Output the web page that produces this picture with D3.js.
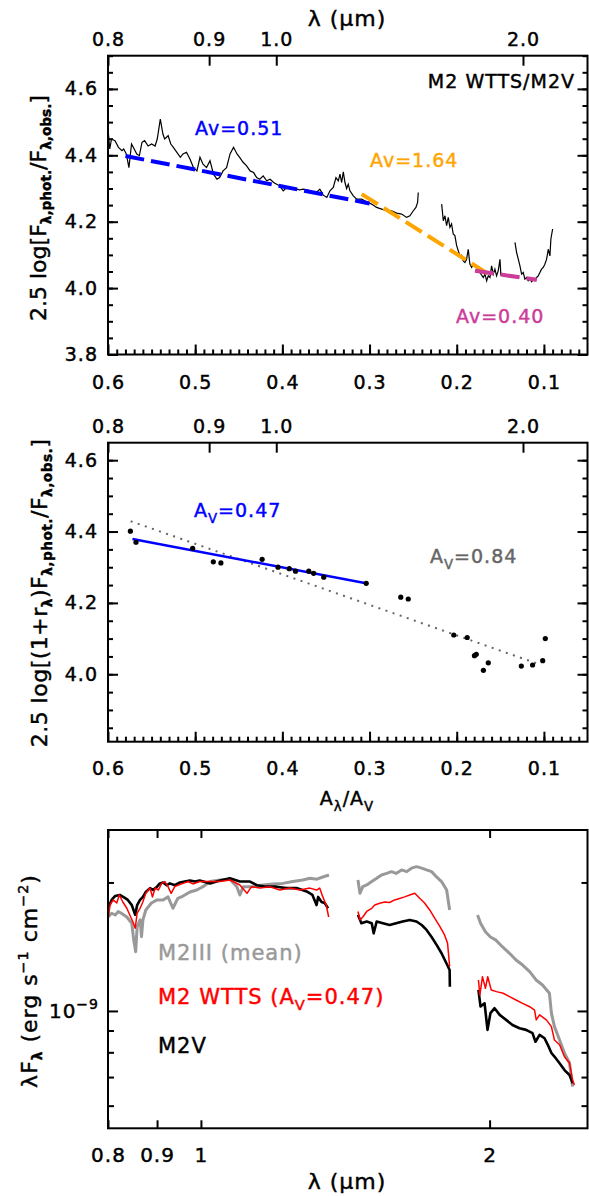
<!DOCTYPE html>
<html>
<head>
<meta charset="utf-8">
<script src="https://cdn.jsdelivr.net/npm/d3@7"></script>
<style>
  body { margin: 0; background: #fff; }
  svg { font-family: "DejaVu Sans", sans-serif; }
  svg text { stroke: currentColor; stroke-width: 0.45px; }
</style>
</head>
<body>
<svg id="chart" width="589" height="1196"></svg>
<script>
// ---------- data ----------
// top axis of panels 1 and 2: wavelength ticks placed at their A_lambda/A_V value
const lambdaTickLabels = ["0.8", "0.9", "1.0", "2.0"];
const lambdaTickA = [0.600, 0.484, 0.407, 0.124];
const aTicks = [0.6, 0.5, 0.4, 0.3, 0.2, 0.1];

// panel 1: 2.5 log(F_phot/F_obs) against A_lambda/A_V, three spectral pieces
const ratioSeg1 = [[0.600,4.48],[0.598,4.419],[0.596,4.449],[0.592,4.444],[0.588,4.424],[0.584,4.414],[0.582,4.419],[0.579,4.404],[0.576,4.363],[0.573,4.434],[0.571,4.424],[0.567,4.404],[0.564,4.399],[0.561,4.439],[0.558,4.444],[0.554,4.428],[0.550,4.434],[0.546,4.428],[0.5435,4.449],[0.540,4.509],[0.537,4.464],[0.535,4.449],[0.531,4.459],[0.528,4.434],[0.525,4.424],[0.521,4.409],[0.517,4.394],[0.514,4.404],[0.510,4.409],[0.506,4.389],[0.502,4.363],[0.498,4.353],[0.4945,4.394],[0.491,4.373],[0.487,4.363],[0.483,4.384],[0.479,4.343],[0.475,4.328],[0.472,4.333],[0.468,4.353],[0.464,4.363],[0.460,4.404],[0.456,4.424],[0.452,4.404],[0.449,4.394],[0.445,4.379],[0.441,4.368],[0.437,4.353],[0.433,4.348],[0.4295,4.333],[0.426,4.328],[0.422,4.338],[0.418,4.323],[0.414,4.328],[0.410,4.318],[0.4065,4.313],[0.403,4.308],[0.399,4.293],[0.395,4.303],[0.391,4.300],[0.3875,4.298],[0.384,4.298],[0.380,4.296],[0.376,4.298],[0.372,4.296],[0.368,4.293],[0.3645,4.288],[0.361,4.288],[0.357,4.298],[0.353,4.280],[0.349,4.273],[0.3454,4.293],[0.3416,4.303],[0.3385,4.333],[0.3358,4.323],[0.3339,4.343],[0.3320,4.318],[0.3301,4.350],[0.3282,4.318],[0.3263,4.300],[0.3244,4.313],[0.3225,4.293],[0.3186,4.278],[0.3148,4.268],[0.3091,4.268],[0.3033,4.260],[0.2976,4.253],[0.2919,4.243],[0.2861,4.238],[0.2804,4.233],[0.2747,4.233],[0.2689,4.226],[0.2632,4.223],[0.2575,4.213],[0.2537,4.218],[0.2498,4.233],[0.2468,4.243],[0.2449,4.258],[0.2441,4.288]];
const ratioSeg2 = [[0.2173,4.253],[0.2154,4.203],[0.2135,4.218],[0.2116,4.188],[0.2097,4.213],[0.2078,4.183],[0.2059,4.193],[0.2040,4.163],[0.2021,4.158],[0.2001,4.128],[0.1982,4.112],[0.1963,4.097],[0.1944,4.099],[0.1925,4.082],[0.1906,4.077],[0.1887,4.087],[0.1868,4.117],[0.1849,4.072],[0.1829,4.062],[0.1810,4.072],[0.1772,4.062],[0.1734,4.047],[0.1696,4.032],[0.1676,4.042],[0.1657,4.022],[0.1638,4.037],[0.1619,4.032],[0.1600,4.067],[0.1581,4.042],[0.1562,4.057],[0.1543,4.037],[0.1524,4.052],[0.1504,4.087],[0.1493,4.037]];
const ratioSeg3 = [[0.1332,4.138],[0.1313,4.107],[0.1294,4.087],[0.1275,4.067],[0.1256,4.042],[0.1237,4.047],[0.1218,4.027],[0.1199,4.032],[0.1180,4.022],[0.1160,4.027],[0.1141,4.019],[0.1122,4.025],[0.1103,4.022],[0.1084,4.032],[0.1065,4.037],[0.1046,4.047],[0.1027,4.057],[0.1008,4.062],[0.0989,4.072],[0.0969,4.087],[0.0950,4.117],[0.0931,4.097],[0.0920,4.148],[0.0900,4.178]];

// panel 1 fitted lines: end points (A, value) and labels
const fitNames = ["Av=0.51", "Av=1.64", "Av=0.40"];
const fitA = [[0.580, 0.300], [0.309, 0.158], [0.179, 0.108]];
const fitV = [[4.398, 4.255], [4.283, 4.033], [4.052, 4.025]];
const fitColors = ["#0000ff", "#ffa500", "#cc3d99"];

// panel 2: photometric points
const photA = [0.5743,0.5679,0.5029,0.4792,0.4705,0.4232,0.405,0.3921,0.3849,0.3697,0.3641,0.3525,0.3038,0.2642,0.2556,0.2034,0.1880,0.1797,0.1776,0.1638,0.1694,0.1259,0.1130,0.1014,0.0984];
const photV = [4.401,4.370,4.353,4.315,4.312,4.322,4.300,4.296,4.289,4.289,4.283,4.272,4.255,4.216,4.211,4.110,4.103,4.052,4.056,4.032,4.011,4.023,4.026,4.038,4.100];
const blueFitA = [0.572, 0.304], blueFitV = [4.379, 4.255];
const greyFitA = [0.574, 0.103], greyFitV = [4.429, 4.026];

// panel 3: lambda (um), lambda F_lambda in units of 1e-9 erg s-1 cm-2
const giant = [
  [[0.800,1.66],[0.807,1.694],[0.814,1.678],[0.820,1.71],[0.826,1.694],[0.837,1.66],[0.847,1.605],[0.851,1.467],[0.855,1.377],[0.858,1.576],[0.864,1.634],[0.867,1.493],[0.870,1.634],[0.876,1.724],[0.888,1.79],[0.900,1.82],[0.913,1.82],[0.924,1.85],[0.935,1.74],[0.946,1.836],[0.958,1.859],[0.974,1.90],[0.990,1.92],[1.005,1.955],[1.022,2.01],[1.047,2.027],[1.072,2.036],[1.090,1.955],[1.098,1.869],[1.107,1.955],[1.133,1.955],[1.160,1.973],[1.188,1.984],[1.217,1.99],[1.247,2.01],[1.277,2.027],[1.299,2.045],[1.321,2.036],[1.340,2.06],[1.360,2.082]],
  [[1.458,2.027],[1.465,1.886],[1.475,1.955],[1.489,1.973],[1.507,2.01],[1.525,2.045],[1.543,2.082],[1.562,2.10],[1.580,2.12],[1.598,2.10],[1.619,2.14],[1.639,2.12],[1.658,2.16],[1.678,2.178],[1.699,2.16],[1.719,2.14],[1.740,2.12],[1.761,2.06],[1.782,2.01],[1.804,1.92],[1.817,1.724]],
  [[1.943,1.678],[1.957,1.605],[1.980,1.533],[2.004,1.49],[2.029,1.467],[2.062,1.414],[2.098,1.365],[2.131,1.316],[2.165,1.281],[2.202,1.236],[2.236,1.182],[2.271,1.15],[2.309,1.10],[2.320,0.988],[2.337,0.919],[2.366,0.855],[2.394,0.796],[2.423,0.755],[2.441,0.665]]
];
const dwarf = [
  [[0.800,1.74],[0.807,1.82],[0.814,1.86],[0.823,1.87],[0.833,1.84],[0.839,1.82],[0.847,1.77],[0.854,1.68],[0.858,1.77],[0.864,1.82],[0.870,1.85],[0.876,1.90],[0.885,1.94],[0.891,1.92],[0.900,1.955],[0.906,1.99],[0.913,2.00],[0.921,1.97],[0.928,1.99],[0.939,1.97],[0.951,2.00],[0.962,2.01],[0.974,2.02],[0.986,2.01],[0.997,2.02],[1.022,1.99],[1.047,2.02],[1.072,2.045],[1.098,2.01],[1.125,2.01],[1.144,1.97],[1.170,1.955],[1.199,1.955],[1.228,1.94],[1.258,1.94],[1.289,1.905],[1.307,1.87],[1.320,1.77],[1.325,1.85],[1.336,1.80],[1.346,1.79],[1.357,1.74]],
  [[1.458,1.68],[1.470,1.605],[1.489,1.62],[1.507,1.605],[1.514,1.52],[1.525,1.62],[1.548,1.605],[1.573,1.59],[1.598,1.605],[1.623,1.62],[1.651,1.634],[1.678,1.62],[1.699,1.59],[1.719,1.548],[1.740,1.49],[1.761,1.428],[1.782,1.365],[1.804,1.29],[1.817,1.247],[1.818,1.14]],
  [[1.947,1.12],[1.957,1.024],[1.976,1.042],[1.990,0.903],[2.004,0.988],[2.024,1.015],[2.049,0.979],[2.081,0.953],[2.113,0.927],[2.149,0.911],[2.183,0.903],[2.217,0.887],[2.233,0.847],[2.255,0.879],[2.282,0.863],[2.300,0.833],[2.320,0.797],[2.337,0.782],[2.366,0.754],[2.394,0.727],[2.423,0.708],[2.442,0.677]]
];
const wtts = [
  [[0.800,1.634],[0.804,1.771],[0.810,1.82],[0.817,1.79],[0.822,1.869],[0.829,1.80],[0.837,1.74],[0.843,1.678],[0.849,1.62],[0.854,1.563],[0.858,1.694],[0.864,1.74],[0.869,1.79],[0.876,1.886],[0.885,1.94],[0.890,1.85],[0.896,1.94],[0.903,1.92],[0.910,1.99],[0.917,2.01],[0.924,1.955],[0.931,1.886],[0.939,1.955],[0.946,1.97],[0.958,1.99],[0.970,2.01],[0.981,1.984],[0.997,2.01],[1.022,2.01],[1.047,2.01],[1.072,2.027],[1.098,1.973],[1.117,1.886],[1.129,1.955],[1.152,1.94],[1.180,1.955],[1.209,1.92],[1.238,1.94],[1.268,1.92],[1.299,1.94],[1.320,1.92],[1.330,1.94],[1.340,1.85],[1.351,1.771],[1.359,1.66]],
  [[1.458,1.71],[1.465,1.634],[1.475,1.66],[1.489,1.71],[1.507,1.74],[1.518,1.771],[1.536,1.787],[1.555,1.80],[1.573,1.795],[1.592,1.82],[1.611,1.835],[1.631,1.85],[1.651,1.869],[1.671,1.886],[1.691,1.836],[1.711,1.79],[1.732,1.724],[1.753,1.65],[1.774,1.58],[1.795,1.507],[1.808,1.44],[1.817,1.27]],
  [[1.947,1.182],[1.954,1.09],[1.966,1.203],[1.980,1.13],[1.991,1.203],[2.008,1.12],[2.033,1.11],[2.066,1.10],[2.098,1.08],[2.131,1.061],[2.165,1.042],[2.202,1.023],[2.228,1.005],[2.237,0.953],[2.255,0.979],[2.292,0.953],[2.320,0.919],[2.337,0.855],[2.366,0.833],[2.394,0.781],[2.423,0.755],[2.441,0.689],[2.452,0.671]]
];
const lamTicks = [0.8, 0.9, 1, 2];
const lamTickLabels = ["0.8", "0.9", "1", "2"];
const fluxMinor = [2, 0.9, 0.8, 0.7, 0.6];

// ---------- drawing ----------
const svg = d3.select("#chart");
const FONT = '"DejaVu Sans", sans-serif';
const LEFT = 108, RIGHT = 587.5;

function axis(gen, tx, ty, fs) {
  const g = svg.append("g")
    .attr("transform", `translate(${tx},${ty})`)
    .call(gen)
    .attr("font-family", FONT)
    .attr("font-size", fs)
    .attr("letter-spacing", "1px");
  g.select(".domain").remove();
  g.selectAll("line").attr("stroke", "#000").attr("stroke-width", 2);
  g.selectAll("text").attr("fill", "#000").style("color", "#000");
  return g;
}

function frame(x0, y0, x1, y1) {
  svg.append("rect")
    .attr("x", x0).attr("y", y0)
    .attr("width", x1 - x0).attr("height", y1 - y0)
    .attr("fill", "none").attr("stroke", "#000").attr("stroke-width", 2);
}

function ratioAxes(x, y, top, bottom, major, minorV, topPad, botPad) {
  axis(d3.axisLeft(y).tickValues(major).tickFormat(d3.format(".1f")).tickSizeInner(-10).tickPadding(10), LEFT, 0, 19);
  axis(d3.axisLeft(y).tickValues(minorV).tickFormat("").tickSizeInner(-5), LEFT, 0, 19);
  axis(d3.axisRight(y).tickValues(major).tickFormat("").tickSizeInner(-10), RIGHT, 0, 19);
  axis(d3.axisRight(y).tickValues(minorV).tickFormat("").tickSizeInner(-5), RIGHT, 0, 19);
  axis(d3.axisBottom(x).tickValues(aTicks).tickFormat(d3.format(".1f")).tickSizeInner(-10).tickPadding(botPad), 0, bottom, 19);
  axis(d3.axisBottom(x).tickValues(d3.range(6, 60).map(v => v / 100)).tickFormat("").tickSizeInner(-5), 0, bottom, 19);
  axis(d3.axisTop(x).tickValues(lambdaTickA).tickFormat((d, i) => lambdaTickLabels[i]).tickSizeInner(-10).tickPadding(topPad), 0, top, 19);
  frame(LEFT, top, RIGHT, bottom);
}

// rotated y label built from pieces [text, kind]
function yLabel(cx, cy, parts, fs, spacing) {
  const t = svg.append("text")
    .attr("transform", `translate(${cx},${cy}) rotate(-90)`)
    .attr("text-anchor", "middle")
    .attr("font-size", fs)
    .attr("letter-spacing", spacing + "px")
    .style("color", "#000");
  let shift = 0;
  parts.forEach(([s, kind]) => {
    const target = kind === "sub" ? 5 : kind === "sup" ? -9 : 0;
    const sp = t.append("tspan").attr("dy", target - shift).text(s);
    if (kind === "sub") sp.attr("font-size", fs * 0.62).attr("font-weight", "bold");
    if (kind === "sup") sp.attr("font-size", fs * 0.65);
    shift = target;
  });
  return t;
}

function richText(x, y, parts, fs, color, anchor) {
  const t = svg.append("text").attr("x", x).attr("y", y)
    .attr("font-size", fs).attr("fill", color).style("color", color)
    .attr("letter-spacing", "1px")
    .attr("text-anchor", anchor || "start");
  let shift = 0;
  parts.forEach(([s, kind]) => {
    const target = kind === "sub" ? 6 : 0;
    const sp = t.append("tspan").attr("dy", target - shift).text(s);
    if (kind === "sub") sp.attr("font-size", fs * 0.7);
    shift = target;
  });
  return t;
}

// ---- panel 1 ----
const x1 = d3.scaleLinear().domain([0.6, 0.05]).range([LEFT, RIGHT]);
const y1 = d3.scaleLinear().domain([3.8, 4.7]).range([354.5, 55.7]);
const line1 = d3.line().x(d => x1(d[0])).y(d => y1(d[1]));

[ratioSeg1, ratioSeg2, ratioSeg3].forEach(seg => {
  svg.append("path").attr("d", line1(seg))
    .attr("fill", "none").attr("stroke", "#000").attr("stroke-width", 1.2);
});
fitA.forEach((a, i) => {
  svg.append("path")
    .attr("d", line1([[a[0], fitV[i][0]], [a[1], fitV[i][1]]]))
    .attr("stroke", fitColors[i]).attr("stroke-width", 4)
    .attr("stroke-dasharray", "19,7").attr("fill", "none");
});
ratioAxes(x1, y1, 55.7, 354.5, [3.8, 4.0, 4.2, 4.4, 4.6], d3.range(76, 95).map(v => v / 20), 10, 21);

richText(347, 26, [["λ (μm)"]], 22, "#000", "middle");
richText(575, 88, [["M2 WTTS/M2V"]], 19, "#000", "end");
richText(195, 135, [[fitNames[0]]], 19, fitColors[0]);
richText(370, 167, [[fitNames[1]]], 19, fitColors[1]);
richText(456, 323, [[fitNames[2]]], 19, fitColors[2]);
yLabel(46, 208, [["2.5 log[F"], ["λ,phot.", "sub"], ["/F"], ["λ,obs.", "sub"], ["]"]], 22, 0);

// ---- panel 2 ----
const y2 = d3.scaleLinear().domain([3.811, 4.649]).range([741.7, 442.7]);
const line2 = d3.line().x(d => x1(d[0])).y(d => y2(d[1]));
svg.append("path").attr("d", line2([[greyFitA[0], greyFitV[0]], [greyFitA[1], greyFitV[1]]]))
  .attr("stroke", "#666").attr("stroke-width", 2).attr("stroke-dasharray", "2,5.5").attr("fill", "none");
svg.append("path").attr("d", line2([[blueFitA[0], blueFitV[0]], [blueFitA[1], blueFitV[1]]]))
  .attr("stroke", "#0000ff").attr("stroke-width", 2.5).attr("fill", "none");
svg.append("g").selectAll("circle").data(photA).join("circle")
  .attr("cx", d => x1(d)).attr("cy", (d, i) => y2(photV[i])).attr("r", 2.6).attr("fill", "#000");
ratioAxes(x1, y2, 442.7, 741.7, [4.0, 4.2, 4.4, 4.6], d3.range(77, 93).map(v => v / 20), 10, 20);

richText(194, 517, [["A"], ["V", "sub"], ["=0.47"]], 19, "#0000ff");
richText(430, 563, [["A"], ["V", "sub"], ["=0.84"]], 19, "#666");
richText(347, 805, [["A"], ["λ", "sub"], ["/A"], ["V", "sub"]], 19, "#000", "middle");
yLabel(47, 593, [["2.5 log[(1+r"], ["λ", "sub"], [")F"], ["λ,phot.", "sub"], ["/F"], ["λ,obs.", "sub"], ["]"]], 22, 0.5);

// ---- panel 3 ----
const x3 = d3.scaleLog().domain([0.8, 2.53]).range([LEFT, RIGHT]);
const y3 = d3.scaleLog().domain([0.531, 2.654]).range([1128.3, 830]);
const line3 = d3.line().x(d => x3(d[0])).y(d => y3(d[1]));
const series = [[giant, "#999", 3], [dwarf, "#000", 2.6], [wtts, "#ff0000", 1.5]];
series.forEach(([segs, col, w]) => {
  segs.forEach(seg => {
    svg.append("path").attr("d", line3(seg))
      .attr("fill", "none").attr("stroke", col).attr("stroke-width", w)
      .attr("stroke-linejoin", "round");
  });
});

axis(d3.axisLeft(y3).tickValues([1]).tickFormat("").tickSizeInner(-10), LEFT, 0, 20);
axis(d3.axisLeft(y3).tickValues(fluxMinor).tickFormat("").tickSizeInner(-6), LEFT, 0, 20);
axis(d3.axisRight(y3).tickValues([1]).tickFormat("").tickSizeInner(-10), RIGHT, 0, 20);
axis(d3.axisRight(y3).tickValues(fluxMinor).tickFormat("").tickSizeInner(-6), RIGHT, 0, 20);
axis(d3.axisBottom(x3).tickValues(lamTicks).tickFormat((d, i) => lamTickLabels[i]).tickSizeInner(-8).tickPadding(20), 0, 1128.3, 20);
axis(d3.axisTop(x3).tickValues(lamTicks).tickFormat("").tickSizeInner(-8), 0, 830, 20);
frame(LEFT, 830, RIGHT, 1128.3);

const yt = svg.append("text").attr("x", 99).attr("y", y3(1) + 7)
  .attr("text-anchor", "end").attr("font-size", 20).attr("letter-spacing", "1px").style("color", "#000");
yt.append("tspan").text("10");
yt.append("tspan").attr("dy", -9).attr("font-size", 14).text("−9");

richText(347, 1189, [["λ (μm)"]], 22, "#000", "middle");
richText(158, 960, [["M2III (mean)"]], 21, "#999");
richText(158, 1004, [["M2 WTTS (A"], ["V", "sub"], ["=0.47)"]], 21, "#ff0000");
richText(158, 1053, [["M2V"]], 21, "#000");
yLabel(37, 981, [["λF"], ["λ", "sub"], [" (erg s"], ["−1", "sup"], [" cm"], ["−2", "sup"], [")"]], 22, 1);
</script>
</body>
</html>
